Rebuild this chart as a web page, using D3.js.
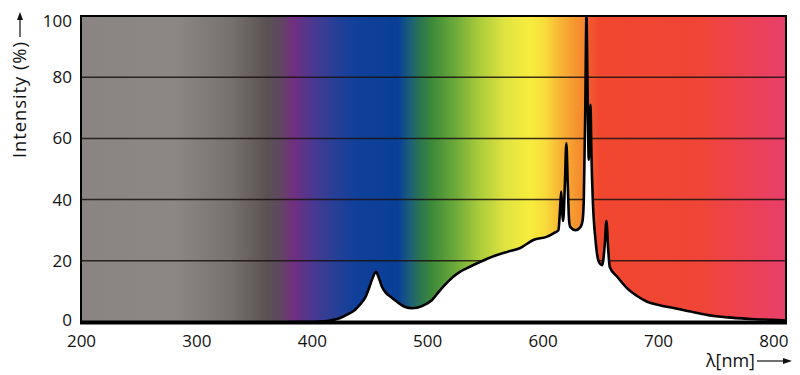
<!DOCTYPE html>
<html>
<head>
<meta charset="utf-8">
<script src="https://cdn.jsdelivr.net/npm/d3@7"></script>
<style>
  html, body { margin: 0; padding: 0; background: #fff; }
  svg { display: block; font-family: "Open Sans", "Noto Sans", sans-serif; }
</style>
</head>
<body>
<svg id="chart" width="800" height="375"></svg>
<script>
// ---- data ----
const wavelengths = [380, 400, 410, 416, 424.6, 431, 437.6, 442, 446.3, 450, 453.3, 455.6, 458, 460.8, 464, 468, 473.8, 481, 486.8, 495.5, 504.2, 511.4, 517, 522.6, 528, 534.5, 546.1, 560.5, 570, 580.7, 592, 603.9, 609.4, 613.7, 615, 616.1, 617.2, 617.8, 619.3, 620.6, 621.8, 623, 624.1, 628.5, 632.8, 634.6, 635.7, 637, 638, 639, 640, 640.8, 641.5, 642.3, 643.5, 645.8, 648.7, 651.6, 653.8, 655.3, 656.8, 658.2, 664.6, 673.3, 681.9, 690.6, 702.2, 713.4, 728.2, 742.7, 760, 780, 800, 811];
const intensity = [0, 0, 0.2, 0.5, 1.3, 2.5, 4, 5.8, 8, 11.5, 15, 16.4, 14.5, 11.5, 9.6, 8.3, 6.6, 4.9, 4.5, 5.2, 7.2, 10.5, 12.8, 14.8, 16.3, 17.6, 19.7, 21.9, 23, 24.2, 26.8, 27.9, 29, 30, 36, 42.6, 35, 33, 45, 58.4, 45, 33, 31, 30, 31, 33, 40, 70, 100, 75, 53, 62, 71, 55, 40, 27, 19.7, 18.6, 25, 33, 24, 18, 14.8, 11, 8.5, 6.6, 5.4, 4.6, 3.4, 2.3, 1.5, 1.0, 0.7, 0.5];
const xTicks = [200, 300, 400, 500, 600, 700, 800];
const yTicks = [0, 20, 40, 60, 80, 100];
const gridValues = [20, 40, 60, 80];
const spectrumNm = [200, 281.5, 329.1, 362.0, 372.4, 383.7, 400.2, 415.8, 437.4, 474.7, 485.1, 493.8, 504.2, 524.1, 544.0, 567.4, 589.1, 602.1, 615.1, 628.1, 636.7, 640.2, 649.7, 736.4, 811];
const spectrumColors = ["#8a8483", "#8c8785", "#77716f", "#595252", "#5f4860", "#722f7e", "#4b3891", "#2d3f95", "#10409a", "#093f97", "#1c5f78", "#2c7452", "#3d8a39", "#6ca93a", "#a7cb3b", "#e0e340", "#f7ed3e", "#f8dc3b", "#f7b535", "#f6962f", "#f5852d", "#f15a2e", "#f1472f", "#f04537", "#e83f6b"];

// ---- layout ----
const pL = 81, pR = 786, pT = 16, pB = 322;
const x = d3.scaleLinear().domain([200, 800]).range([81, 773.4]);
const y = d3.scaleLinear().domain([0, 100]).range([pB, pT]);

const svg = d3.select("#chart");
const defs = svg.append("defs");

const grad = defs.append("linearGradient")
  .attr("id", "spec").attr("gradientUnits", "userSpaceOnUse")
  .attr("x1", pL).attr("x2", pR).attr("y1", 0).attr("y2", 0);
spectrumNm.forEach((nm, i) => {
  grad.append("stop")
    .attr("offset", Math.max(0, Math.min(1, (x(nm) - pL) / (pR - pL))))
    .attr("stop-color", spectrumColors[i]);
});

defs.append("clipPath").attr("id", "plotclip")
  .append("rect").attr("x", pL).attr("y", pT).attr("width", pR - pL).attr("height", pB - pT);

// background spectrum
svg.append("rect").attr("x", pL).attr("y", pT).attr("width", pR - pL).attr("height", pB - pT)
  .attr("fill", "url(#spec)");

// gridlines
svg.append("g").selectAll("line").data(gridValues).join("line")
  .attr("x1", pL).attr("x2", pR)
  .attr("y1", d => y(d)).attr("y2", d => y(d))
  .attr("stroke", "#1a1212").attr("stroke-opacity", 0.85).attr("stroke-width", 1.5);

// curve
const pts = wavelengths.map((w, i) => [w, intensity[i]]);
const g = svg.append("g").attr("clip-path", "url(#plotclip)");
g.append("path").datum(pts)
  .attr("fill", "#fff")
  .attr("d", d3.area().x(d => x(d[0])).y0(pB).y1(d => y(d[1])).curve(d3.curveMonotoneX));
g.append("path").datum(pts)
  .attr("fill", "none").attr("stroke", "#000").attr("stroke-width", 2.6).attr("stroke-linejoin", "round")
  .attr("d", d3.line().x(d => x(d[0])).y(d => y(d[1])).curve(d3.curveMonotoneX));

// frame
svg.append("path")
  .attr("d", `M${pL},${pB} V${pT} H${pR} V${pB}`)
  .attr("fill", "none").attr("stroke", "#000").attr("stroke-width", 2);
svg.append("line").attr("x1", pL - 1).attr("x2", pR + 1).attr("y1", pB + 0.5).attr("y2", pB + 0.5)
  .attr("stroke", "#000").attr("stroke-width", 4);

// axes
const xAxis = svg.append("g").attr("transform", `translate(0,${pB})`)
  .call(d3.axisBottom(x).tickValues(xTicks).tickSize(0).tickPadding(13));
const yAxis = svg.append("g").attr("transform", `translate(${pL},0)`)
  .call(d3.axisLeft(y).tickValues(yTicks).tickSize(0).tickPadding(9));
[xAxis, yAxis].forEach(a => {
  a.select(".domain").remove();
  a.selectAll("text").attr("font-size", 17).attr("fill", "#111")
    .attr("font-family", "'Open Sans', 'Noto Sans', sans-serif");
});
yAxis.selectAll(".tick").filter(d => d === 100).select("text").attr("dy", "0.62em");
yAxis.selectAll(".tick").filter(d => d === 0).select("text").attr("dy", "0.2em");

// y-axis title + arrow
svg.append("text")
  .attr("transform", "translate(26,158) rotate(-90)")
  .attr("font-size", 18.5).attr("fill", "#111")
  .attr("textLength", 116).attr("lengthAdjust", "spacing")
  .text("Intensity (%)");
svg.append("line").attr("x1", 20).attr("x2", 20).attr("y1", 37).attr("y2", 19)
  .attr("stroke", "#111").attr("stroke-width", 1.2);
svg.append("path").attr("d", "M20,12 L17,20 L23,20 Z").attr("fill", "#111");

// x-axis title + arrow
svg.append("text")
  .attr("x", 755).attr("y", 367).attr("text-anchor", "end")
  .attr("font-size", 18).attr("fill", "#111")
  .text("λ[nm]");
svg.append("line").attr("x1", 757).attr("x2", 784).attr("y1", 361).attr("y2", 361)
  .attr("stroke", "#111").attr("stroke-width", 1.2);
svg.append("path").attr("d", "M792,361 L783,358 L783,364 Z").attr("fill", "#111");
</script>
</body>
</html>
